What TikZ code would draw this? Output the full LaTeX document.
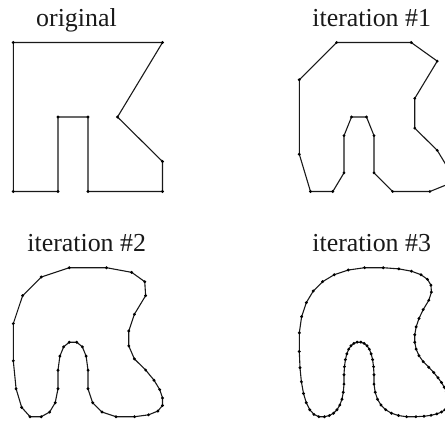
\documentclass[tikz,border=0pt]{standalone}
\usepackage{fontspec}
\setmainfont{Liberation Serif}
\tikzset{
  polyline/.style={draw=black!90,line width=1.1pt,line join=round,line cap=round},
  vertexdot/.style={fill=black,draw=none},
  caption/.style={anchor=base,inner sep=0pt,font=\fontsize{26}{28}\selectfont,text=black!90}
}
\ExplSyntaxOn
\seq_new:N \l_ck_x_seq
\seq_new:N \l_ck_y_seq
\seq_new:N \l_ck_nx_seq
\seq_new:N \l_ck_ny_seq
\tl_new:N \l_ck_px_tl
\tl_new:N \l_ck_py_tl
\tl_new:N \l_ck_path_tl
\tl_new:N \l_ck_cmd_tl
\fp_new:N \l_ck_dx_fp
\fp_new:N \l_ck_dy_fp
\cs_new_protected:Npn \ck_reset:
  {
    \seq_set_from_clist:Nn \l_ck_x_seq {13.3,162.5,117.5,162.5,162.5,88,88,58,58,13.3}
    \seq_set_from_clist:Nn \l_ck_y_seq {42.5,42.5,117,161.5,191.5,191.5,117,117,191.5,191.5}
  }
\cs_new_protected:Npn \ck_edge:nn #1#2
  {
    \seq_put_right:Nx \l_ck_nx_seq { \fp_eval:n { round(0.75*\l_ck_px_tl + 0.25*(#1),3) } }
    \seq_put_right:Nx \l_ck_ny_seq { \fp_eval:n { round(0.75*\l_ck_py_tl + 0.25*(#2),3) } }
    \seq_put_right:Nx \l_ck_nx_seq { \fp_eval:n { round(0.25*\l_ck_px_tl + 0.75*(#1),3) } }
    \seq_put_right:Nx \l_ck_ny_seq { \fp_eval:n { round(0.25*\l_ck_py_tl + 0.75*(#2),3) } }
    \tl_set:Nn \l_ck_px_tl {#1}
    \tl_set:Nn \l_ck_py_tl {#2}
  }
\cs_new_protected:Npn \ck_step:
  {
    \seq_clear:N \l_ck_nx_seq
    \seq_clear:N \l_ck_ny_seq
    \seq_get_right:NN \l_ck_x_seq \l_ck_px_tl
    \seq_get_right:NN \l_ck_y_seq \l_ck_py_tl
    \seq_mapthread_function:NNN \l_ck_x_seq \l_ck_y_seq \ck_edge:nn
    \seq_set_eq:NN \l_ck_x_seq \l_ck_nx_seq
    \seq_set_eq:NN \l_ck_y_seq \l_ck_ny_seq
  }
\cs_new_protected:Npn \ck_addpt:nn #1#2
  {
    \tl_put_right:Nx \l_ck_path_tl
      { ( \fp_eval:n { round(#1 + \l_ck_dx_fp,3) } , \fp_eval:n { round(#2 + \l_ck_dy_fp,3) } ) ~ -- ~ }
  }
\cs_new_protected:Npn \ck_dot:nn #1#2
  {
    \fill [vertexdot] ( \fp_eval:n { round(#1 + \l_ck_dx_fp,3) } , \fp_eval:n { round(#2 + \l_ck_dy_fp,3) } ) circle [radius=1.6bp];
  }
\cs_new_protected:Npn \ck_draw:nn #1#2
  {
    \fp_set:Nn \l_ck_dx_fp {#1}
    \fp_set:Nn \l_ck_dy_fp {#2}
    \tl_clear:N \l_ck_path_tl
    \seq_mapthread_function:NNN \l_ck_x_seq \l_ck_y_seq \ck_addpt:nn
    \tl_set:Nx \l_ck_cmd_tl
      { \exp_not:N \draw [polyline] ~ \exp_not:V \l_ck_path_tl cycle; }
    \tl_use:N \l_ck_cmd_tl
    \seq_mapthread_function:NNN \l_ck_x_seq \l_ck_y_seq \ck_dot:nn
  }
\NewDocumentCommand \ChaikinReset {} { \ck_reset: }
\NewDocumentCommand \ChaikinStep {} { \ck_step: }
\NewDocumentCommand \ChaikinDraw {mm} { \ck_draw:nn {#1} {#2} }
\ExplSyntaxOff
\begin{document}
\begin{tikzpicture}[x=1bp,y=-1bp]
  \useasboundingbox (0,0) rectangle (445,421);
  \node[caption] (label0) at (76.5,26) {original};
  \node[caption] (label1) at (371.7,26) {iteration \#1};
  \node[caption] (label2) at (86.7,251) {iteration \#2};
  \node[caption] (label3) at (371.7,251) {iteration \#3};
  \ChaikinReset
  \ChaikinDraw{0}{0}
  \ChaikinStep
  \ChaikinDraw{286}{0}
  \ChaikinStep
  \ChaikinDraw{0}{225.2}
  \ChaikinStep
  \ChaikinDraw{286}{225.2}
\end{tikzpicture}
\end{document}
